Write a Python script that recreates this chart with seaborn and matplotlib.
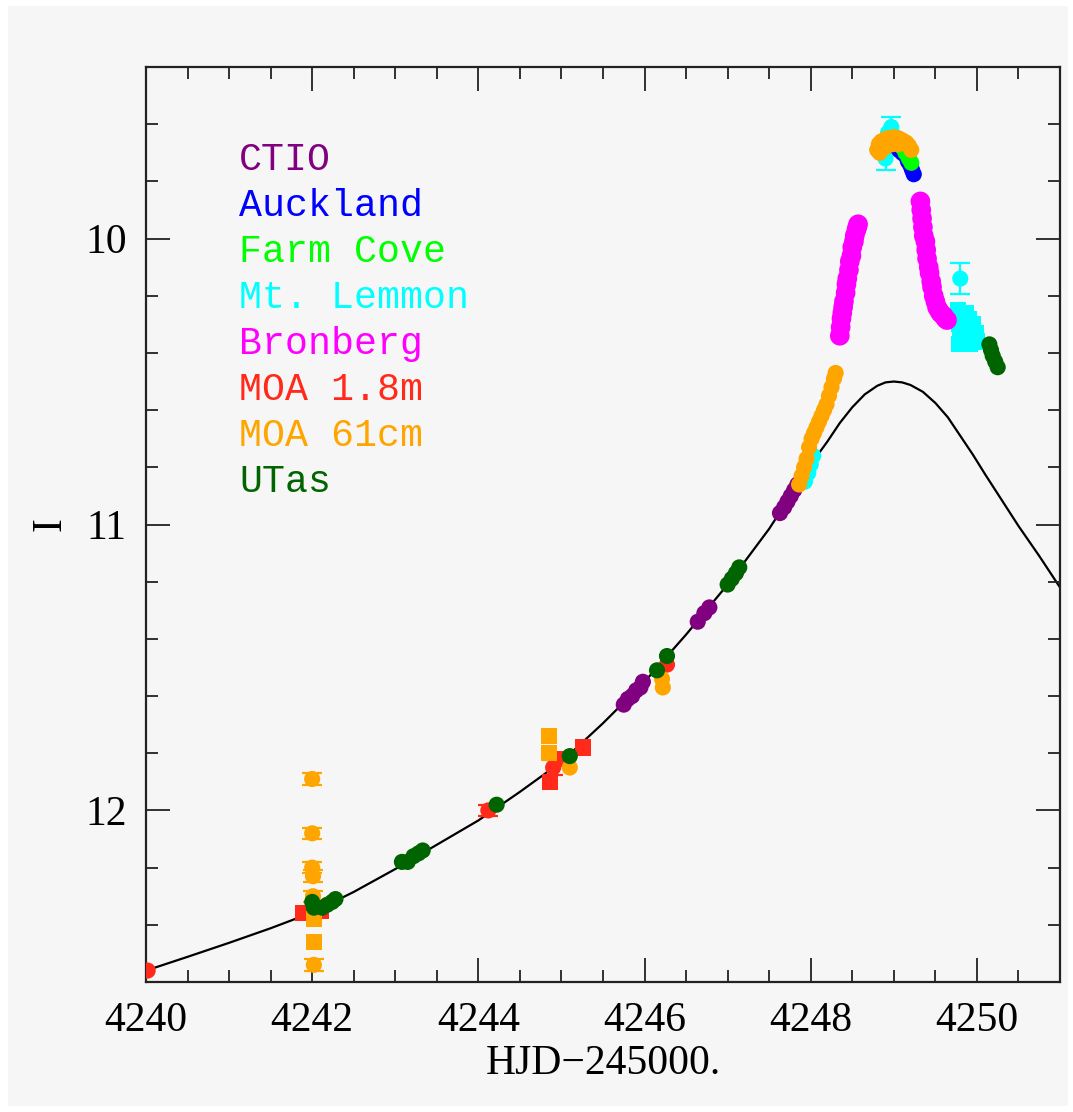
import numpy as np
import pandas as pd
import seaborn as sns
import matplotlib.pyplot as plt
from matplotlib.ticker import MultipleLocator, FormatStrFormatter
from matplotlib.patches import Rectangle

# === Data ===
sites = ["CTIO", "Auckland", "Farm Cove", "Mt. Lemmon", "Bronberg", "MOA 1.8m", "MOA 61cm", "UTas"]
site_colors = ["#800080", "#0000ff", "#00ff00", "#00ffff", "#ff00ff", "#ff2a1a", "#ffa500", "#006400"]

ctio_t = [4245.75, 4245.80, 4245.85, 4245.90, 4245.95, 4245.98, 4246.64, 4246.72, 4246.78,
          4247.63, 4247.68, 4247.72, 4247.76, 4247.80, 4247.84]
ctio_i = [11.63, 11.61, 11.60, 11.58, 11.57, 11.55, 11.34, 11.31, 11.29,
          10.96, 10.94, 10.92, 10.90, 10.88, 10.86]

auck_t = [4249.02, 4249.06, 4249.10, 4249.14, 4249.17, 4249.20, 4249.22, 4249.24]
auck_i = [9.68, 9.69, 9.70, 9.71, 9.73, 9.745, 9.76, 9.775]

farm_t = [4249.10, 4249.14, 4249.18, 4249.21]
farm_i = [9.68, 9.70, 9.72, 9.735]

lemm_t = [4248.97, 4248.90, 4248.87, 4248.93, 4249.00,
          4247.93, 4247.97, 4248.00, 4248.03, 4249.80]
lemm_i = [9.61, 9.72, 9.69, 9.63, 9.64,
          10.85, 10.82, 10.79, 10.76, 10.14]
lemm_err = [0.035, 0.04, 0, 0, 0, 0, 0, 0, 0, 0.053]
lemm_sq_t = [4249.77, 4249.78, 4249.80, 4249.82, 4249.84, 4249.86, 4249.88, 4249.90, 4249.92, 4249.94,
             4249.96, 4249.98, 4250.00, 4249.79, 4249.83, 4249.87, 4249.91, 4249.95, 4249.99]
lemm_sq_i = [10.25, 10.30, 10.35, 10.27, 10.32, 10.36, 10.29, 10.33, 10.37, 10.31,
             10.34, 10.35, 10.36, 10.37, 10.37, 10.26, 10.28, 10.30, 10.33]

bron_t = [4248.35, 4248.36, 4248.37, 4248.38, 4248.39, 4248.40, 4248.42, 4248.43, 4248.44, 4248.46,
          4248.47, 4248.49, 4248.50, 4248.52, 4248.53, 4248.55, 4248.56, 4248.57,
          4249.32, 4249.33, 4249.34, 4249.35, 4249.36, 4249.38, 4249.39, 4249.40, 4249.42, 4249.43,
          4249.45, 4249.46, 4249.48, 4249.50, 4249.52, 4249.54, 4249.56, 4249.58, 4249.60, 4249.62, 4249.64]
bron_i = [10.34, 10.31, 10.28, 10.26, 10.24, 10.22, 10.19, 10.16, 10.14, 10.11,
          10.08, 10.06, 10.03, 10.01, 9.99, 9.97, 9.96, 9.95,
          9.87, 9.90, 9.93, 9.96, 9.99, 10.01, 10.04, 10.07, 10.10, 10.12,
          10.15, 10.17, 10.20, 10.22, 10.24, 10.25, 10.26, 10.265, 10.27, 10.28, 10.285]

moa18_t = [4240.02, 4244.12, 4244.90, 4246.27]
moa18_i = [12.56, 12.00, 11.85, 11.49]
moa18_err = [0, 0.02, 0.025, 0]
moa18_sq_t = [4241.89, 4242.10, 4244.86, 4245.02, 4245.26]
moa18_sq_i = [12.36, 12.35, 11.90, 11.82, 11.78]

moa61_t = [4242.00, 4242.00, 4242.00, 4242.01, 4242.01, 4242.02, 4245.10, 4246.21, 4246.22,
           4247.86, 4247.89, 4247.92, 4247.95, 4247.98, 4248.01, 4248.04, 4248.07, 4248.10, 4248.13,
           4248.16, 4248.19, 4248.22, 4248.25, 4248.28, 4248.30,
           4248.80, 4248.82, 4248.85, 4248.88, 4248.91, 4248.94, 4248.97, 4249.00, 4249.03, 4249.06,
           4249.09, 4249.12, 4249.15, 4249.18, 4249.21, 4248.83, 4248.90, 4248.98, 4249.05]
moa61_i = [11.89, 12.08, 12.20, 12.23, 12.30, 12.54, 11.85, 11.54, 11.57,
           10.86, 10.83, 10.80, 10.77, 10.73, 10.70, 10.68, 10.66, 10.64, 10.62,
           10.60, 10.58, 10.55, 10.52, 10.49, 10.47,
           9.69, 9.67, 9.66, 9.66, 9.65, 9.65, 9.65, 9.645, 9.65, 9.65,
           9.655, 9.66, 9.665, 9.675, 9.69, 9.70, 9.68, 9.67, 9.67]
moa61_err = [0.02, 0.02, 0.02, 0.02, 0.02, 0.02] + [0] * 38
moa61_sq_t = [4242.02, 4242.02, 4244.85, 4244.85]
moa61_sq_i = [12.38, 12.46, 11.74, 11.80]

utas_t = [4242.00, 4242.02, 4242.12, 4242.18, 4242.24, 4242.28, 4243.08, 4243.15, 4243.22, 4243.28,
          4243.33, 4244.22, 4245.10, 4246.15, 4246.27, 4247.00, 4247.05, 4247.10, 4247.14,
          4250.15, 4250.17, 4250.19, 4250.22, 4250.25]
utas_i = [12.32, 12.34, 12.34, 12.33, 12.32, 12.31, 12.18, 12.18, 12.16, 12.15,
          12.14, 11.98, 11.81, 11.51, 11.46, 11.21, 11.19, 11.17, 11.15,
          10.37, 10.39, 10.41, 10.43, 10.45]

# model curve
model_t = [4240.0, 4240.5, 4241.0, 4241.5, 4242.0, 4242.5, 4243.0, 4243.5, 4244.0, 4244.5,
           4245.0, 4245.5, 4246.0, 4246.5, 4247.0, 4247.5, 4248.0, 4248.2, 4248.35, 4248.5,
           4248.65, 4248.8, 4248.9, 4249.0, 4249.1, 4249.2, 4249.35, 4249.5, 4249.65, 4249.8,
           4249.95, 4250.1, 4250.3, 4250.5, 4250.75, 4251.0]
model_i = [12.56, 12.512, 12.463, 12.412, 12.357, 12.285, 12.205, 12.12, 12.035, 11.935,
           11.83, 11.695, 11.55, 11.385, 11.21, 11.015, 10.79, 10.71, 10.645, 10.59,
           10.545, 10.515, 10.503, 10.50, 10.503, 10.512, 10.536, 10.575, 10.625, 10.69,
           10.755, 10.825, 10.915, 11.005, 11.11, 11.22]

# === Build one long table (rows in drawing order) ===
groups = [
    ("CTIO", "circle", ctio_t, ctio_i, None),
    ("Auckland", "circle", auck_t, auck_i, None),
    ("Farm Cove", "circle", farm_t, farm_i, None),
    ("Mt. Lemmon", "square", lemm_sq_t, lemm_sq_i, None),
    ("Mt. Lemmon", "circle", lemm_t, lemm_i, lemm_err),
    ("Bronberg", "circle", bron_t, bron_i, None),
    ("MOA 1.8m", "circle", moa18_t, moa18_i, moa18_err),
    ("MOA 1.8m", "square", moa18_sq_t, moa18_sq_i, None),
    ("MOA 61cm", "square", moa61_sq_t, moa61_sq_i, None),
    ("MOA 61cm", "circle", moa61_t, moa61_i, moa61_err),
    ("UTas", "circle", utas_t, utas_i, None),
]
frames = []
for site, kind, t, mag, err in groups:
    frames.append(pd.DataFrame({"site": site, "kind": kind, "hjd": t, "mag": mag,
                                "err": err if err is not None else 0.0}))
df = pd.concat(frames, ignore_index=True)

palette = dict(zip(sites, site_colors))
marker_sizes = {s: 135 for s in sites}
marker_sizes["Bronberg"] = 200
bg = "#f6f6f6"

fig = plt.figure(figsize=(10.73, 11.12), dpi=100, facecolor="white")
fig.patches.append(Rectangle((8 / 1073, 6 / 1112), 1060 / 1073, 1100 / 1112,
                             transform=fig.transFigure, facecolor=bg, edgecolor="none", zorder=-10))
ax = fig.add_axes([146 / 1073, 130 / 1112, 914 / 1073, 915 / 1112])
ax.set_facecolor(bg)

# === Model ===
sns.lineplot(x=model_t, y=model_i, color="black", lw=1.6, sort=False, estimator=None, ax=ax, zorder=1)

# === Error bars ===
eb = df[df["err"] > 0]
for site, sub in eb.groupby("site"):
    ax.errorbar(sub["hjd"], sub["mag"], yerr=sub["err"], fmt="none", ecolor=palette[site],
                elinewidth=1.6, capsize=7, capthick=1.6, zorder=2)

# === Points ===
sns.scatterplot(data=df, x="hjd", y="mag", hue="site", style="kind", size="site",
                palette=palette, sizes=marker_sizes,
                markers={"circle": "o", "square": "s"}, linewidth=0,
                legend=False, ax=ax, zorder=3)

# === Axes ===
ax.set_xlim(4240, 4251)
ax.set_ylim(12.6, 9.4)
ax.xaxis.set_major_locator(MultipleLocator(2))
ax.xaxis.set_minor_locator(MultipleLocator(0.5))
ax.yaxis.set_major_locator(MultipleLocator(1))
ax.yaxis.set_minor_locator(MultipleLocator(0.2))
ax.xaxis.set_major_formatter(FormatStrFormatter("%d"))
ax.yaxis.set_major_formatter(FormatStrFormatter("%d"))
ax.tick_params(which="both", direction="in", top=True, right=True, color="#222222", width=1.3)
ax.tick_params(which="major", length=17, pad=14)
ax.tick_params(which="minor", length=8.5)
for lab in ax.get_xticklabels() + ax.get_yticklabels():
    lab.set_family("Liberation Serif")
    lab.set_fontsize(30)
for sp in ax.spines.values():
    sp.set_linewidth(1.6)
    sp.set_color("#222222")

ax.set_xlabel("HJD\u2212245000.", family="Liberation Serif", fontsize=30, labelpad=3)
ax.set_ylabel("I", family="Liberation Serif", fontsize=30, labelpad=11)

# === Site labels ===
for k, (name, col) in enumerate(zip(sites, site_colors)):
    ax.text(0.102, 0.8874 - k * 0.0503, name, transform=ax.transAxes, color=col,
            fontsize=27.5, family="Liberation Mono", va="baseline", ha="left")

fig.savefig("out.png", dpi=100, facecolor=fig.get_facecolor())
